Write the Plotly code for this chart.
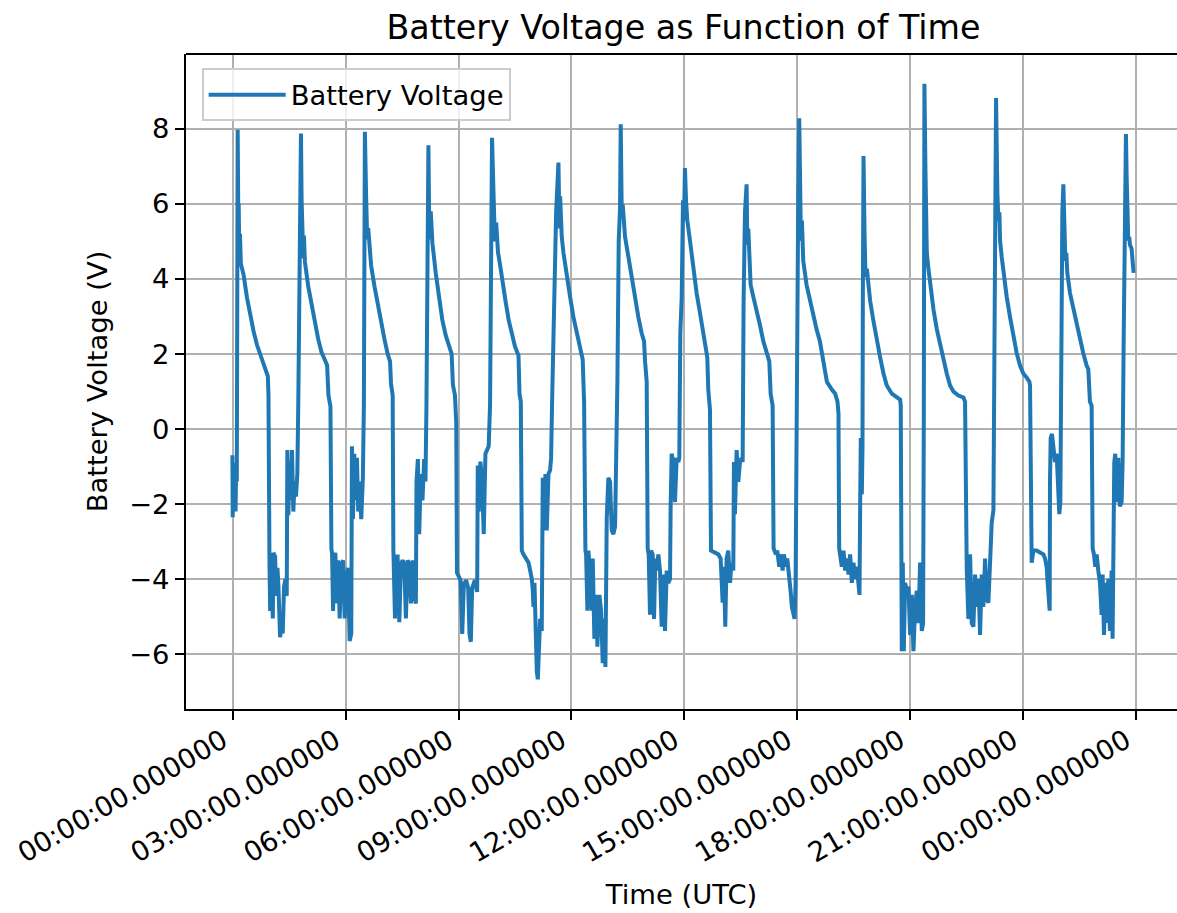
import pandas as pd
import plotly.graph_objects as go

# ---- data: (minutes after 00:00 UTC, battery voltage in V), one list per orbit ----
cycle01 = [(-0.5,-0.7),(0.0,-2.35),(0.5,-1.0),(1.5,-2.0),(2.5,-1.2),(3.5,-1.5),(4.5,-2.2),(5.5,-0.9),(6.5,-1.4),(7.0,1.9),(7.9,7.97),(8.5,6.3),(9.0,5.3),(9.5,6.0),(10.5,4.6),(11.5,5.2),(13.0,4.4),(17.4,4.1),(22.7,3.5),(28.0,3.0),(33.3,2.6),(38.5,2.25),(46.5,1.85),(51.7,1.6),(56.0,1.4),(57.0,0.9),(57.5,-3.3),(58.6,-3.6),(59.7,-4.85),(60.7,-3.4),(62.3,-3.7),(63.9,-5.05),(64.9,-3.3),(67.6,-3.4),(69.2,-4.45),(71.3,-3.7),(72.9,-4.2),(74.4,-5.45),(75.5,-5.55),(78.1,-5.25),(79.7,-5.45),(81.8,-4.2),(84.0,-4.0),(86.1,-4.45)]
cycle02 = [(87.1,-0.56),(88.7,-2.3),(90.3,-0.87),(92.4,-1.9),(94.5,-0.56),(96.6,-2.2),(98.7,-1.4),(100.8,-1.8),(103.0,-1.2),(104.5,0.66),(106.1,3.7),(108.8,7.87),(109.8,6.1),(111.4,5.3),(112.5,4.55),(113.5,5.15),(115.1,4.45),(120.4,3.8),(125.7,3.3),(131.0,2.8),(136.2,2.4),(141.5,2.05),(146.8,1.85),(150.5,1.7),(152.6,0.9),(155.8,0.6),(157.3,-3.2),(158.4,-3.3),(160.0,-4.85),(161.6,-3.4),(163.7,-3.3),(165.3,-4.65),(167.9,-3.5),(170.5,-5.05),(173.2,-3.6),(175.8,-3.5),(178.5,-5.05),(181.1,-4.0),(183.7,-3.7),(186.4,-5.65),(189.0,-5.45)]
cycle03 = [(190.1,-0.46),(191.7,-2.4),(193.8,-0.66),(195.9,-1.9),(198.0,-0.77),(200.1,-2.2),(202.2,-1.4),(204.9,-2.4),(207.5,-1.3),(209.1,0.66),(209.6,3.7),(210.7,7.92),(212.8,6.1),(214.4,5.05),(216.0,5.35),(218.1,4.75),(220.7,4.35),(226.0,3.8),(231.3,3.3),(236.5,2.8),(241.8,2.4),(247.0,2.0),(250.8,1.8),(252.4,1.2),(255.0,0.9),(256.1,-3.2),(258.7,-5.05),(260.3,-3.4),(262.9,-3.4),(265.6,-5.15),(268.2,-3.6),(270.9,-3.5),(273.5,-3.6),(276.1,-5.05),(278.8,-3.5),(281.4,-3.6),(284.1,-4.65),(286.7,-3.5),(289.3,-4.45),(292.0,-4.65)]
cycle04 = [(293.0,-1.4),(295.2,-0.8),(297.3,-2.8),(299.9,-1.2),(302.5,-1.9),(305.2,-0.8),(307.3,-1.4),(308.9,0.66),(310.5,5.6),(312.0,7.56),(313.1,5.67),(314.2,5.05),(315.7,5.8),(317.3,5.05),(318.4,4.95),(323.7,4.15),(329.0,3.5),(334.2,2.9),(339.5,2.5),(344.8,2.2),(349.0,2.0),(351.1,1.17),(354.3,0.9),(356.4,0.15),(357.5,-3.83),(363.3,-4.03),(365.9,-5.46),(368.5,-4.14),(372.2,-4.03),(375.4,-4.24),(377.5,-5.46),(379.6,-5.67),(381.7,-4.24),(386.0,-4.03),(389.7,-4.34)]
cycle05 = [(390.7,-0.97),(392.3,-2.2),(394.9,-0.87),(397.6,-1.4),(400.2,-2.8),(402.9,-0.66),(405.5,-0.56),(408.1,-0.46),(410.3,0.66),(411.8,4.75),(413.4,7.76),(416.1,6.1),(418.0,5.0),(420.0,5.5),(423.0,4.7),(426.0,4.4),(430.0,3.9),(435.0,3.4),(440.0,2.9),(445.0,2.55),(450.0,2.2),(455.6,1.96),(457.2,0.94),(459.3,0.73),(460.9,-3.24),(463.5,-3.34),(467.8,-3.45),(471.5,-3.56),(474.2,-3.77),(476.8,-3.99),(478.4,-4.3),(479.5,-4.74),(481.1,-4.1),(482.1,-4.95),(483.7,-5.7),(484.8,-6.46),(486.4,-6.67),(488.0,-6.13),(490.1,-5.06),(492.7,-5.38)]
cycle06 = [(494.3,-1.3),(496.5,-2.7),(498.6,-1.2),(500.7,-2.7),(503.4,-1.2),(506.0,-1.1),(507.6,-0.77),(509.2,0.73),(512.4,3.4),(515.6,5.77),(519.3,7.1),(520.9,5.34),(522.0,6.2),(523.5,5.34),(524.6,5.12),(527.3,4.69),(532.6,4.05),(537.9,3.52),(543.2,2.98),(548.5,2.55),(553.8,2.12),(558.0,1.85),(559.1,1.26),(560.2,0.73),(562.3,-3.24),(563.4,-3.34),(565.5,-4.84),(567.1,-3.24),(569.7,-3.88),(572.4,-4.84),(574.0,-3.45),(576.6,-5.59),(579.3,-4.42),(581.4,-5.8),(584.6,-4.42),(587.3,-4.84),(589.9,-6.24),(592.0,-5.06),(594.2,-6.34)]
cycle07 = [(596.3,-2.38),(598.9,-1.3),(601.6,-1.41),(604.3,-2.7),(606.9,-2.8),(609.6,-2.6),(611.2,-1.3),(613.3,1.26),(615.4,5.02),(617.5,5.87),(618.6,8.12),(620.2,5.77),(621.8,5.98),(623.4,5.34),(625.5,5.12),(630.8,4.59),(636.1,4.0),(641.4,3.41),(646.7,2.98),(652.0,2.55),(655.8,2.34),(657.4,1.8),(660.0,1.26),(661.6,-3.18),(663.2,-3.34),(665.3,-4.95),(666.9,-3.24),(669.6,-3.34),(671.7,-5.06),(673.8,-3.45),(675.9,-3.77),(678.6,-3.34),(681.2,-3.77),(683.9,-5.27),(686.6,-3.88),(689.2,-5.38),(691.9,-3.77),(694.5,-4.1),(697.2,-3.99)]
cycle08 = [(698.2,-2.06),(699.8,-0.66),(702.5,-0.88),(705.1,-1.95),(707.8,-0.77),(710.5,-0.88),(712.0,-0.77),(713.6,2.55),(715.8,3.5),(717.9,6.09),(719.5,5.55),(721.0,6.95),(722.7,6.09),(724.8,5.55),(729.0,5.02),(734.3,4.27),(739.6,3.62),(745.0,3.09),(750.3,2.55),(754.5,2.12),(756.6,1.91),(758.2,1.05),(760.9,0.51),(762.5,-3.24),(768.9,-3.29),(774.2,-3.34),(777.9,-3.45),(779.5,-3.88),(781.1,-4.63),(783.2,-3.67),(785.3,-5.27),(787.4,-3.45),(790.1,-3.24),(792.8,-4.1),(795.4,-3.56),(798.1,-3.77)]
cycle09 = [(799.1,-0.88),(800.7,-2.27),(803.4,-0.56),(806.1,-1.41),(808.7,-0.88),(811.4,-0.77),(813.0,-0.88),(814.5,3.41),(816.7,5.77),(819.3,6.52),(820.4,4.91),(822.0,5.34),(823.6,4.27),(825.7,3.84),(830.0,3.52),(835.3,3.19),(840.6,2.77),(845.9,2.34),(851.2,2.02),(855.5,1.8),(857.6,0.94),(860.8,0.62),(862.3,-3.18),(866.1,-3.34),(868.2,-3.24),(871.3,-3.67),(873.5,-3.34),(876.7,-3.77),(878.8,-3.34),(882.0,-3.67),(884.1,-3.45),(887.3,-3.88),(889.4,-4.31),(891.5,-4.74),(893.6,-4.95),(895.8,-5.06),(897.4,-4.1)]
cycle10 = [(898.4,-0.34),(900.0,3.41),(901.6,6.09),(903.2,8.28),(904.3,6.09),(905.9,5.02),(907.5,5.55),(909.6,4.48),(914.9,3.84),(920.2,3.41),(925.5,2.98),(930.8,2.66),(936.1,2.34),(941.9,1.69),(947.3,1.26),(955.2,1.05),(960.5,0.94),(964.2,0.73),(965.8,0.41),(966.9,-3.18),(968.5,-3.34),(971.1,-3.67),(973.8,-3.24),(976.5,-3.77),(979.1,-3.45),(981.8,-3.88),(984.4,-3.34),(987.1,-4.1),(989.7,-3.56),(992.4,-3.99),(995.0,-3.67),(997.7,-4.2),(999.3,-4.42)]
cycle11 = [(1000.4,-1.95),(1001.4,-0.24),(1003.0,-1.74),(1004.1,-0.45),(1004.6,3.41),(1005.7,7.27),(1007.3,5.23),(1008.9,4.05),(1011.0,4.27),(1013.6,3.84),(1016.3,3.41),(1021.6,2.87),(1026.9,2.34),(1032.2,1.91),(1037.5,1.48),(1042.8,1.16),(1050.8,0.94),(1058.8,0.84),(1064.1,0.78),(1065.1,0.62),(1066.7,-5.92),(1068.3,-3.56),(1069.9,-5.92),(1072.0,-4.1),(1074.7,-4.31),(1077.3,-4.2),(1080.0,-5.49),(1082.7,-4.42),(1085.3,-5.92),(1088.0,-4.74),(1090.6,-4.31),(1093.3,-5.17),(1095.9,-3.56),(1098.6,-5.38),(1100.7,-5.17)]
cycle12 = [(1101.8,0.19),(1102.8,9.2),(1104.4,6.95),(1105.5,5.34),(1106.6,4.69),(1109.2,4.27),(1111.9,3.84),(1117.2,3.19),(1122.5,2.66),(1127.8,2.23),(1133.1,1.91),(1138.4,1.48),(1143.7,1.16),(1149.0,1.0),(1157.0,0.89),(1165.0,0.84),(1167.6,0.73),(1168.7,-3.34),(1170.3,-3.77),(1172.9,-5.06),(1175.6,-3.34),(1178.2,-5.17),(1180.9,-5.27),(1183.5,-3.88),(1186.2,-4.74),(1188.9,-3.99),(1191.5,-5.49),(1194.2,-3.88),(1196.8,-4.74),(1199.5,-3.45),(1202.1,-4.53),(1204.8,-4.63),(1207.4,-3.56),(1210.1,-2.49),(1212.8,-2.17)]
cycle13 = [(1214.9,2.34),(1217.0,8.82),(1219.1,6.3),(1220.7,5.55),(1222.3,5.77),(1223.4,5.02),(1226.0,4.59),(1228.7,4.16),(1234.0,3.52),(1239.3,2.98),(1244.6,2.44),(1249.9,2.02),(1255.2,1.69),(1260.5,1.48),(1265.9,1.37),(1270.1,1.26),(1271.2,1.16),(1272.2,-3.34),(1273.8,-3.56),(1276.5,-3.24),(1281.8,-3.24),(1287.1,-3.29),(1292.4,-3.34),(1295.1,-3.45),(1297.7,-3.67),(1299.3,-4.1),(1300.9,-4.74),(1302.5,-4.84)]
cycle14 = [(1303.0,-1.41),(1304.1,-0.24),(1306.2,-0.13),(1308.3,-0.45),(1311.0,-0.88),(1313.6,-0.66),(1316.3,-2.17),(1317.9,-2.27),(1319.5,-1.95),(1321.1,3.41),(1322.7,5.77),(1324.3,6.52),(1325.9,4.69),(1327.5,4.48),(1329.0,4.69),(1330.6,4.16),(1334.9,3.62),(1340.2,3.19),(1345.5,2.77),(1350.8,2.34),(1356.1,2.02),(1361.4,1.69),(1364.1,1.59),(1366.7,0.73),(1369.4,0.62),(1371.0,-3.18),(1373.1,-3.34),(1375.2,-3.67),(1377.4,-3.34),(1380.0,-3.77),(1382.7,-4.1),(1385.3,-4.95),(1386.9,-3.88),(1389.1,-5.49),(1391.2,-4.1),(1393.3,-5.17),(1396.0,-3.99),(1398.6,-5.38),(1401.3,-3.77),(1402.8,-5.59)]
cycle15 = [(1403.9,-1.95),(1405.5,-0.88),(1407.1,-0.66),(1409.2,-1.95),(1411.9,-0.77),(1414.5,-2.06),(1417.2,-1.95),(1418.8,-0.88),(1420.4,2.23),(1422.0,4.16),(1424.1,7.86),(1425.2,6.73),(1426.2,5.55),(1427.8,5.02),(1429.4,5.12),(1430.5,4.91),(1433.1,4.8),(1434.7,4.27),(1436.3,4.16)]

cycles = [cycle01, cycle02, cycle03, cycle04, cycle05, cycle06, cycle07, cycle08,
          cycle09, cycle10, cycle11, cycle12, cycle13, cycle14, cycle15]

tick_minutes = [0, 180, 360, 540, 720, 900, 1080, 1260, 1440]
tick_labels = ["00:00:00.000000", "03:00:00.000000", "06:00:00.000000",
               "09:00:00.000000", "12:00:00.000000", "15:00:00.000000",
               "18:00:00.000000", "21:00:00.000000", "00:00:00.000000"]
y_ticks = [-6, -4, -2, 0, 2, 4, 6, 8]

day0 = pd.Timestamp("2023-01-01 00:00:00")
minutes = [p[0] for c in cycles for p in c]
volts = [p[1] for c in cycles for p in c]
times = [day0 + pd.Timedelta(minutes=m) for m in minutes]

FONT = "DejaVu Sans"
fig = go.Figure()
fig.add_trace(go.Scatter(
    x=times, y=volts, mode="lines", name="Battery Voltage",
    line=dict(color="#1f77b4", width=4),
))

x_lo = day0 + pd.Timedelta(minutes=-74.5)
x_hi = day0 + pd.Timedelta(minutes=1505.5)

fig.update_layout(
    width=1177, height=913,
    margin=dict(l=186, r=0, t=54, b=204, pad=0),
    paper_bgcolor="white", plot_bgcolor="white",
    font=dict(family=FONT, color="black", size=27.4),
    title=dict(text="Battery Voltage as Function of Time", font=dict(size=33.3, family=FONT),
               xref="container", x=683.5 / 1177, xanchor="center",
               yref="container", y=1 - 27 / 913, yanchor="middle"),
    showlegend=True,
    legend=dict(x=0.0158, y=0.978, xanchor="left", yanchor="top", itemwidth=77,
                bgcolor="rgba(255,255,255,0.8)", bordercolor="#cccccc", borderwidth=2,
                font=dict(size=27.4, family=FONT)),
    xaxis=dict(
        type="date", range=[x_lo, x_hi],
        tickvals=[day0 + pd.Timedelta(minutes=m) for m in tick_minutes],
        ticktext=tick_labels, tickangle=-30,
        ticklabelshift=-10, ticklabelstandoff=-6,
        ticks="outside", ticklen=9, tickwidth=2, tickcolor="black",
        showline=True, linecolor="black", linewidth=2,
        showgrid=True, gridcolor="#b0b0b0", gridwidth=2, zeroline=False,
        tickfont=dict(size=27.4, family=FONT),
        title=dict(text="Time (UTC)", font=dict(size=27.4, family=FONT), standoff=17),
    ),
    yaxis=dict(
        range=[-7.46, 9.99], tickvals=y_ticks,
        ticks="outside", ticklen=9, tickwidth=2, tickcolor="black",
        showline=True, linecolor="black", linewidth=2,
        showgrid=True, gridcolor="#b0b0b0", gridwidth=2, zeroline=False,
        tickfont=dict(size=27.4, family=FONT),
        title=dict(text="Battery Voltage (V)", font=dict(size=27.4, family=FONT), standoff=14),
    ),
    shapes=[dict(type="line", xref="paper", yref="paper", x0=0, x1=1, y0=1, y1=1,
                 line=dict(color="black", width=2))],
)

fig.write_html("out.html", config={"displayModeBar": False},
               post_script="document.body.style.margin='0';document.body.style.overflow='hidden';")
